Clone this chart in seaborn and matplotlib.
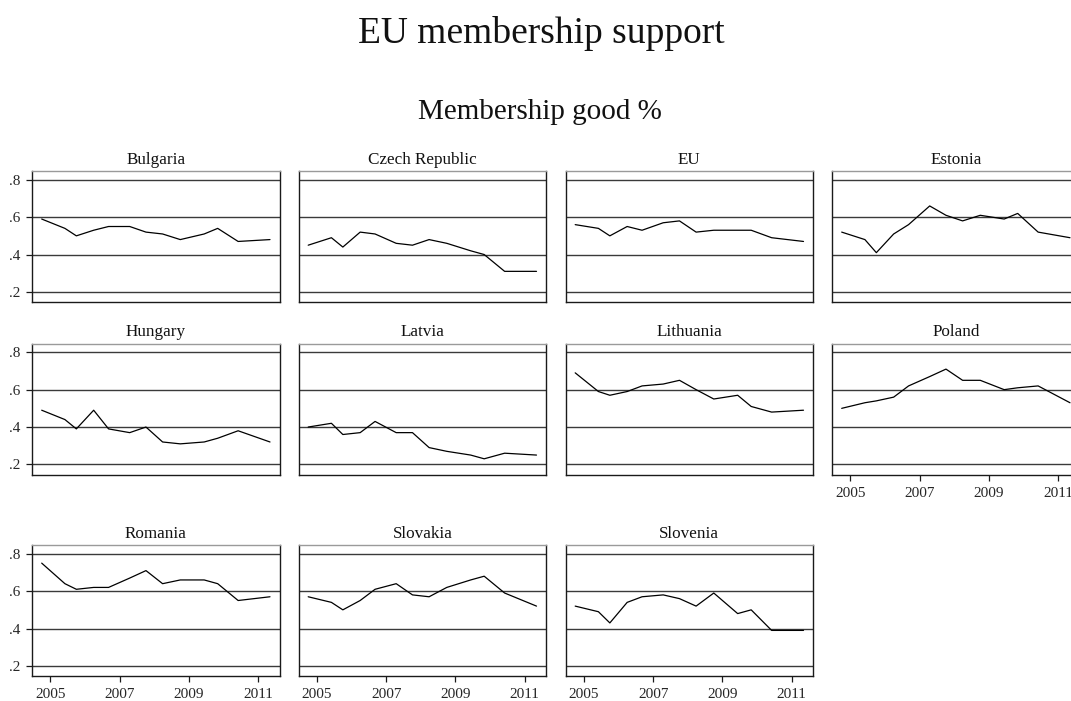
import matplotlib
matplotlib.use("Agg")
import matplotlib.pyplot as plt
import pandas as pd
import seaborn as sns

# Survey waves (decimal year of fieldwork)
wave_year = [2004.75, 2005.42, 2005.75, 2006.25, 2006.68, 2007.29, 2007.76,
             2008.24, 2008.75, 2009.44, 2009.83, 2010.42, 2011.34]

countries = ["Bulgaria", "Czech Republic", "EU", "Estonia",
             "Hungary", "Latvia", "Lithuania", "Poland",
             "Romania", "Slovakia", "Slovenia"]

# Share saying EU membership is a good thing
bulgaria = [0.59, 0.54, 0.50, 0.53, 0.55, 0.55, 0.52, 0.51, 0.48, 0.51, 0.54, 0.47, 0.48]
czech_republic = [0.45, 0.49, 0.44, 0.52, 0.51, 0.46, 0.45, 0.48, 0.46, 0.42, 0.40, 0.31, 0.31]
eu = [0.56, 0.54, 0.50, 0.55, 0.53, 0.57, 0.58, 0.52, 0.53, 0.53, 0.53, 0.49, 0.47]
estonia = [0.52, 0.48, 0.41, 0.51, 0.56, 0.66, 0.61, 0.58, 0.61, 0.59, 0.62, 0.52, 0.49]
hungary = [0.49, 0.44, 0.39, 0.49, 0.39, 0.37, 0.40, 0.32, 0.31, 0.32, 0.34, 0.38, 0.32]
latvia = [0.40, 0.42, 0.36, 0.37, 0.43, 0.37, 0.37, 0.29, 0.27, 0.25, 0.23, 0.26, 0.25]
lithuania = [0.69, 0.59, 0.57, 0.59, 0.62, 0.63, 0.65, 0.60, 0.55, 0.57, 0.51, 0.48, 0.49]
poland = [0.50, 0.53, 0.54, 0.56, 0.62, 0.67, 0.71, 0.65, 0.65, 0.60, 0.61, 0.62, 0.53]
romania = [0.75, 0.64, 0.61, 0.62, 0.62, 0.67, 0.71, 0.64, 0.66, 0.66, 0.64, 0.55, 0.57]
slovakia = [0.57, 0.54, 0.50, 0.55, 0.61, 0.64, 0.58, 0.57, 0.62, 0.66, 0.68, 0.59, 0.52]
slovenia = [0.52, 0.49, 0.43, 0.54, 0.57, 0.58, 0.56, 0.52, 0.59, 0.48, 0.50, 0.39, 0.39]

series = [bulgaria, czech_republic, eu, estonia, hungary, latvia,
          lithuania, poland, romania, slovakia, slovenia]

y_ticks = [0.2, 0.4, 0.6, 0.8]
y_tick_labels = [".2", ".4", ".6", ".8"]
x_ticks = [2005, 2007, 2009, 2011]
x_tick_labels = ["2005", "2007", "2009", "2011"]

rows = []
for name, vals in zip(countries, series):
    for yr, v in zip(wave_year, vals):
        rows.append({"country": name, "year": yr, "good": v})
df = pd.DataFrame(rows)

sns.set_style("white")
plt.rcParams["font.family"] = ["Liberation Serif", "DejaVu Serif"]

W, H = 1071, 701
fig = plt.figure(figsize=(W / 100, H / 100), dpi=100)
fig.patch.set_facecolor("white")

# Panel grid geometry in pixels
col_left = [32, 298.5, 565.5, 832]
row_bottom = [302, 474.5, 676]
panel_w, panel_h = 247.7, 131

x_ticked = {"Poland", "Romania", "Slovakia", "Slovenia"}

for i, name in enumerate(countries):
    r, c = divmod(i, 4)
    ax = fig.add_axes([col_left[c] / W, 1 - row_bottom[r] / H,
                       panel_w / W, panel_h / H])
    sns.lineplot(data=df[df["country"] == name], x="year", y="good",
                 ax=ax, color="black", linewidth=0.9,
                 estimator=None, errorbar=None, zorder=3)
    ax.set_xlim(2004.47, 2011.62)
    ax.set_ylim(0.146, 0.847)
    ax.set_xlabel("")
    ax.set_ylabel("")
    ax.set_yticks(y_ticks)
    ax.set_yticklabels(y_tick_labels)
    ax.set_xticks(x_ticks)
    ax.set_xticklabels(x_tick_labels)
    ax.grid(False)
    for yv in y_ticks:
        ax.axhline(yv, color="#3a3a3a", linewidth=1.0, zorder=1)

    for side in ("left", "bottom", "right"):
        ax.spines[side].set_color("#1a1a1a")
        ax.spines[side].set_linewidth(1.0)
    ax.spines["top"].set_color("#9a9a9a")
    ax.spines["top"].set_linewidth(1.0)

    if c == 0:
        ax.tick_params(axis="y", direction="out", length=4, width=0.9,
                       color="#1a1a1a", pad=4.2, labelsize=11, left=True)
    else:
        ax.tick_params(axis="y", length=0, labelleft=False, left=False)

    if name in x_ticked:
        ax.tick_params(axis="x", direction="out", length=4.5, width=0.9,
                       color="#1a1a1a", pad=4.5, labelsize=11, bottom=True)
    else:
        ax.tick_params(axis="x", length=0, labelbottom=False, bottom=False)

    ax.set_title(name, fontsize=12.3, pad=5.3, color="#111111")

fig.text(541 / W, 1 - 43 / H, "EU membership support", ha="center",
         va="baseline", fontsize=27, color="#111111")
fig.text(540 / W, 1 - 118.6 / H, "Membership good %", ha="center",
         va="baseline", fontsize=21, color="#111111")

fig.savefig("out.png", dpi=100, facecolor="white")
